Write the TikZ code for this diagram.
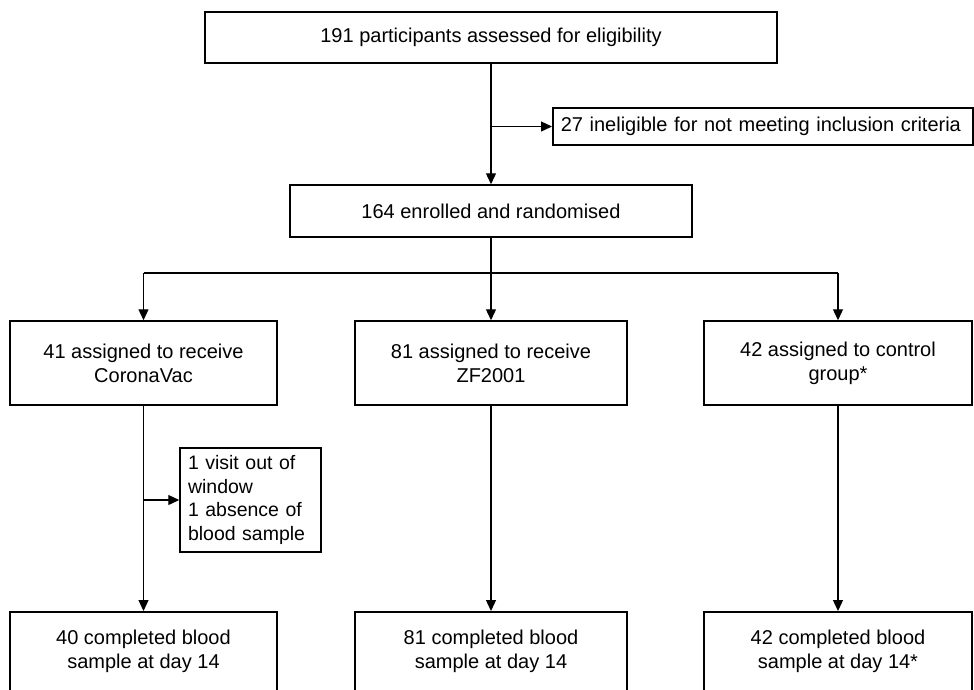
\documentclass[tikz,border=0pt]{standalone}
\usepackage{fontspec}
\setmainfont{Liberation Sans}
\usetikzlibrary{arrows.meta}
\begin{document}
\begin{tikzpicture}[x=1pt,y=-1pt,
  font=\fontsize{20}{24}\selectfont,
  box/.style={draw, line width=1.5pt, inner sep=0pt, rectangle},
  cbox/.style={box, align=center},
  ln/.style={line width=1.3pt},
  arr/.style={line width=1.3pt, -{Triangle[length=11pt,width=10pt]}},
  txt/.style={inner sep=0pt, align=center}]
\useasboundingbox (0,0) rectangle (974,689);
\clip (0,0) rectangle (974,689);
% top
\node[cbox, minimum width=572pt, minimum height=51pt] (top) at (491,37.5) {191 participants assessed for eligibility};
\node[box, minimum width=420pt, minimum height=37pt, anchor=west, inner xsep=8pt, text width=404pt, align=left] (inel) at (552,126.5) {27 ineligible for not meeting inclusion criteria};
\node[cbox, minimum width=402pt, minimum height=52pt] (enr) at (491,211) {164 enrolled and randomised};
% columns
\node[cbox, minimum width=267pt, minimum height=84pt] (c1) at (143.5,363) {41 assigned to receive\\CoronaVac};
\node[cbox, minimum width=272pt, minimum height=84pt] (c2) at (491,363) {81 assigned to receive\\ZF2001};
\node[cbox, minimum width=268pt, minimum height=84pt] (c3) at (838,363) {42 assigned to control\\group*};
% excluded
\node[box, minimum width=141pt, minimum height=104pt, inner xsep=8pt, text width=125pt, align=left, font=\fontsize{19.5}{23.5}\selectfont] (ex) at (250.5,500) {1 visit out of\\window\\1 absence of\\blood sample};
% bottom
\node[box, minimum width=267pt, minimum height=100pt, anchor=north] (d1) at (143.5,611) {};
\node[box, minimum width=272pt, minimum height=100pt, anchor=north] (d2) at (491,611) {};
\node[box, minimum width=268pt, minimum height=100pt, anchor=north] (d3) at (838,611) {};
\node[txt] (t1) at (143.5,651) {40 completed blood\\sample at day 14};
\node[txt] (t2) at (491,651) {81 completed blood\\sample at day 14};
\node[txt] (t3) at (838,651) {42 completed blood\\sample at day 14*};
% connectors
\draw[arr] (top.south) -- (enr.north);
\draw[arr] (top.south |- inel.west) -- (inel.west);
\coordinate (br) at (491,273);
\draw[ln] (enr.south) -- (br);
\draw[ln] (c1.north |- br) -- (c3.north |- br);
\draw[arr] (c1.north |- br) -- (c1.north);
\draw[arr] (br) -- (c2.north);
\draw[arr] (c3.north |- br) -- (c3.north);
\draw[arr] (c1.south) -- (d1.north);
\draw[arr] (c1.south |- ex.west) -- (ex.west);
\draw[arr] (c2.south) -- (d2.north);
\draw[arr] (c3.south) -- (d3.north);
\end{tikzpicture}
\end{document}
